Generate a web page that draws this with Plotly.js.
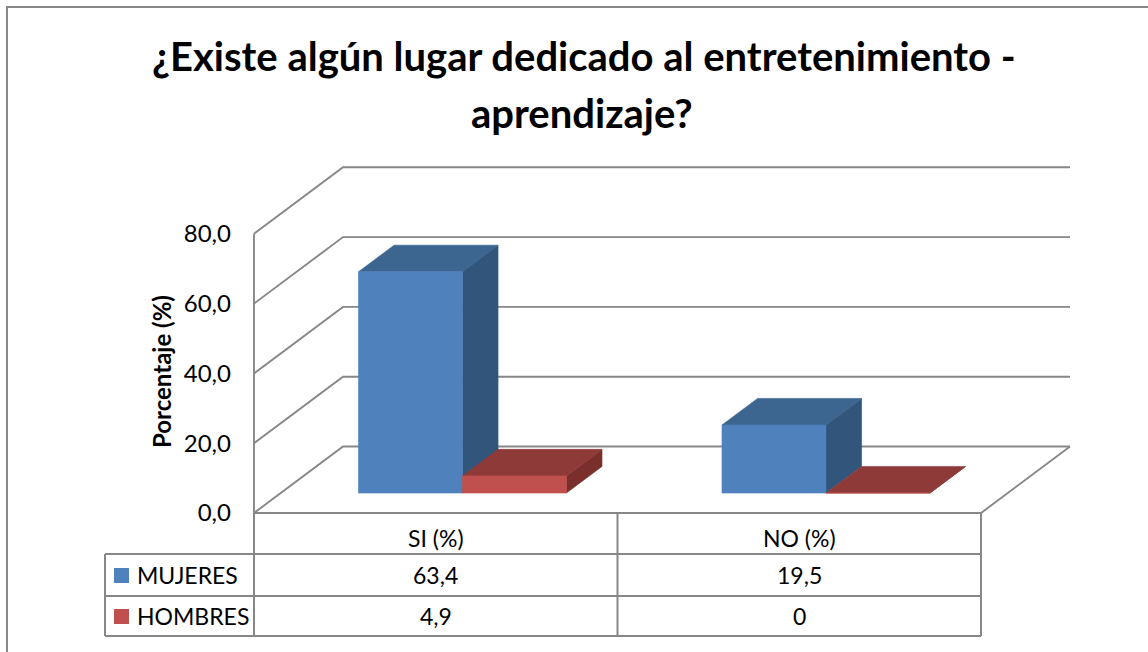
<!DOCTYPE html>
<html>
<head>
<meta charset="utf-8">
<script src="https://cdn.plot.ly/plotly-3.0.1.min.js"></script>
<style>
  html, body { margin: 0; padding: 0; background: #ffffff; }
  #chart { width: 1148px; height: 652px; }
</style>
</head>
<body>
<div id="chart"></div>
<script>
// ---------------- DATA ----------------
const titleLine1 = '¿Existe algún lugar dedicado al entretenimiento -';
const titleLine2 = 'aprendizaje?';
const yTitle = 'Porcentaje (%)';
const categories = ['SI (%)', 'NO (%)'];
const seriesNames = ['MUJERES', 'HOMBRES'];
const mujeres = [63.4, 19.5];
const hombres = [4.9, 0];
const yTicks = [0, 20, 40, 60, 80];

// ---------------- STYLE / GEOMETRY ----------------
const W = 1148, H = 652;
const KX = 363.5;          // px per category unit
const KY = 3.49;           // px per percent
const X0PX = 254, Y0PX = 513;
const M = { l: 240, r: 60, t: 150, b: 125 };
const plotL = M.l, plotR = W - M.r, plotT = M.t, plotB = H - M.b;
const xRange = [(plotL - X0PX) / KX, (plotR - X0PX) / KX];
const yRange = [(Y0PX - plotB) / KY, (Y0PX - plotT) / KY];
const pX = p => (p - plotL) / (plotR - plotL);
const pY = p => (plotB - p) / (plotB - plotT);

const DX = 89 / KX;        // full depth, x units
const DY = 66.5 / KY;      // full depth, y units
const F1 = 0.30, F2 = 0.70; // bar depth slice
const BAR_W = 0.286;
const NCAT = categories.length;
const XBACK = NCAT + DX;

const GRID = '#878787';
const FONT = 'Lato, "Open Sans", sans-serif';
const seriesStyle = [
  { front: '#4F81BD', top: '#3C6590', side: '#32557B' },
  { front: '#C0504D', top: '#8E3A39', side: '#7A2F2D' }
];
const seriesValues = [mujeres, hombres];

const proj = (x, y, f) => [x + f * DX, y + f * DY];

const traces = [];

// walls: gridlines on left + back wall
yTicks.forEach(t => {
  traces.push({
    type: 'scatter', mode: 'lines', hoverinfo: 'skip', showlegend: false,
    x: [0, DX, XBACK], y: [t, t + DY, t + DY],
    line: { color: GRID, width: 1.9 }
  });
});
// front wall edge
traces.push({
  type: 'scatter', mode: 'lines', hoverinfo: 'skip', showlegend: false,
  x: [0, 0], y: [0, yTicks[yTicks.length - 1]],
  line: { color: GRID, width: 1.9 }
});
// floor front edge + right edge
traces.push({
  type: 'scatter', mode: 'lines', hoverinfo: 'skip', showlegend: false,
  x: [0, NCAT, NCAT + DX], y: [0, 0, DY],
  line: { color: GRID, width: 1.9 }
});

// 3D bars
function polys(list) {
  const xs = [], ys = [];
  list.forEach((pts, i) => {
    if (i > 0) { xs.push(null); ys.push(null); }
    pts.forEach(p => { xs.push(p[0]); ys.push(p[1]); });
    xs.push(pts[0][0]); ys.push(pts[0][1]);
  });
  return { x: xs, y: ys };
}
seriesValues.forEach((vals, s) => {
  const st = seriesStyle[s];
  const sides = [], tops = [], fronts = [];
  vals.forEach((v, i) => {
    const xl = i + 0.5 + (s - 1) * BAR_W;
    const xr = xl + BAR_W;
    fronts.push([proj(xl, 0, F1), proj(xr, 0, F1), proj(xr, v, F1), proj(xl, v, F1)]);
    tops.push([proj(xl, v, F1), proj(xr, v, F1), proj(xr, v, F2), proj(xl, v, F2)]);
    sides.push([proj(xr, 0, F1), proj(xr, 0, F2), proj(xr, v, F2), proj(xr, v, F1)]);
  });
  [[sides, st.side], [tops, st.top], [fronts, st.front]].forEach(([pl, col]) => {
    const d = polys(pl);
    traces.push({
      type: 'scatter', mode: 'lines', fill: 'toself', hoverinfo: 'skip', showlegend: false,
      name: seriesNames[s], x: d.x, y: d.y, fillcolor: col,
      line: { color: col, width: 0.6 }
    });
  });
});

// ---------------- TABLE ----------------
const shapes = [];
const ln = (x0, y0, x1, y1) => shapes.push({
  type: 'line', xref: 'paper', yref: 'paper',
  x0: pX(x0), y0: pY(y0), x1: pX(x1), y1: pY(y1),
  line: { color: GRID, width: 2 }
});
const TBL_L = 105, TBL_R = X0PX + NCAT * KX;
const rowY = [513, 554, 596, 636];
// verticals
for (let c = 0; c <= NCAT; c++) ln(X0PX + c * KX, rowY[0], X0PX + c * KX, rowY[3]);
ln(TBL_L, rowY[1], TBL_L, rowY[3]);
// horizontals
for (let r = 1; r < rowY.length; r++) ln(TBL_L, rowY[r], TBL_R, rowY[r]);

// outer chart border (top + left visible)
shapes.push({
  type: 'rect', xref: 'paper', yref: 'paper',
  x0: pX(7), y0: pY(7), x1: pX(1200), y1: pY(700),
  line: { color: '#888888', width: 2 }, fillcolor: 'rgba(0,0,0,0)'
});

const annotations = [];
const fmt = v => String(v).replace('.', ',');
const TFS = 23;
// header categories
categories.forEach((c, i) => annotations.push({
  xref: 'x', yref: 'paper', x: i + 0.5, y: pY(538),
  text: c, showarrow: false, xanchor: 'center', yanchor: 'middle',
  font: { family: FONT, size: TFS, color: '#000' }
}));
// rows
const rowCenters = [575, 616];
seriesNames.forEach((nm, s) => {
  // legend key
  shapes.push({
    type: 'rect', xref: 'paper', yref: 'paper',
    x0: pX(114), x1: pX(129), y0: pY(rowCenters[s] - 7), y1: pY(rowCenters[s] + 8),
    line: { width: 0 }, fillcolor: seriesStyle[s].front
  });
  annotations.push({
    xref: 'paper', yref: 'paper', x: pX(135), y: pY(rowCenters[s]),
    text: nm, showarrow: false, xanchor: 'left', yanchor: 'middle',
    font: { family: FONT, size: TFS, color: '#000' }
  });
  seriesValues[s].forEach((v, i) => annotations.push({
    xref: 'x', yref: 'paper', x: i + 0.5, y: pY(rowCenters[s]),
    text: fmt(v), showarrow: false, xanchor: 'center', yanchor: 'middle',
    font: { family: FONT, size: TFS, color: '#000' }
  }));
});

// y axis title (placed to match the reference's vertical centre on the front wall)
annotations.push({
  xref: 'paper', yref: 'paper', x: pX(161), y: pY(372),
  text: '<b>' + yTitle + '</b>', showarrow: false, textangle: -90,
  xanchor: 'center', yanchor: 'middle',
  font: { family: FONT, size: 24, color: '#000' }
});

// title lines
annotations.push({
  xref: 'paper', yref: 'paper', x: pX(584), y: pY(56),
  text: '<b>' + titleLine1 + '</b>', showarrow: false, xanchor: 'center', yanchor: 'middle',
  font: { family: FONT, size: 40, color: '#000' }
});
annotations.push({
  xref: 'paper', yref: 'paper', x: pX(582), y: pY(113),
  text: '<b>' + titleLine2 + '</b>', showarrow: false, xanchor: 'center', yanchor: 'middle',
  font: { family: FONT, size: 40, color: '#000' }
});

const layout = {
  width: W, height: H,
  margin: M,
  paper_bgcolor: '#ffffff', plot_bgcolor: '#ffffff',
  separators: ',.',
  showlegend: false,
  xaxis: {
    range: xRange, visible: false, fixedrange: true
  },
  yaxis: {
    range: yRange, showgrid: false, zeroline: false, showline: false,
    tickmode: 'array', tickvals: yTicks, tickformat: '.1f', ticks: '',
    ticklabelstandoff: 8,
    tickfont: { family: FONT, size: 24, color: '#000' },
    automargin: false, fixedrange: true
  },
  shapes: shapes,
  annotations: annotations
};

Plotly.newPlot('chart', traces, layout, { displayModeBar: false, staticPlot: true });
</script>
</body>
</html>
